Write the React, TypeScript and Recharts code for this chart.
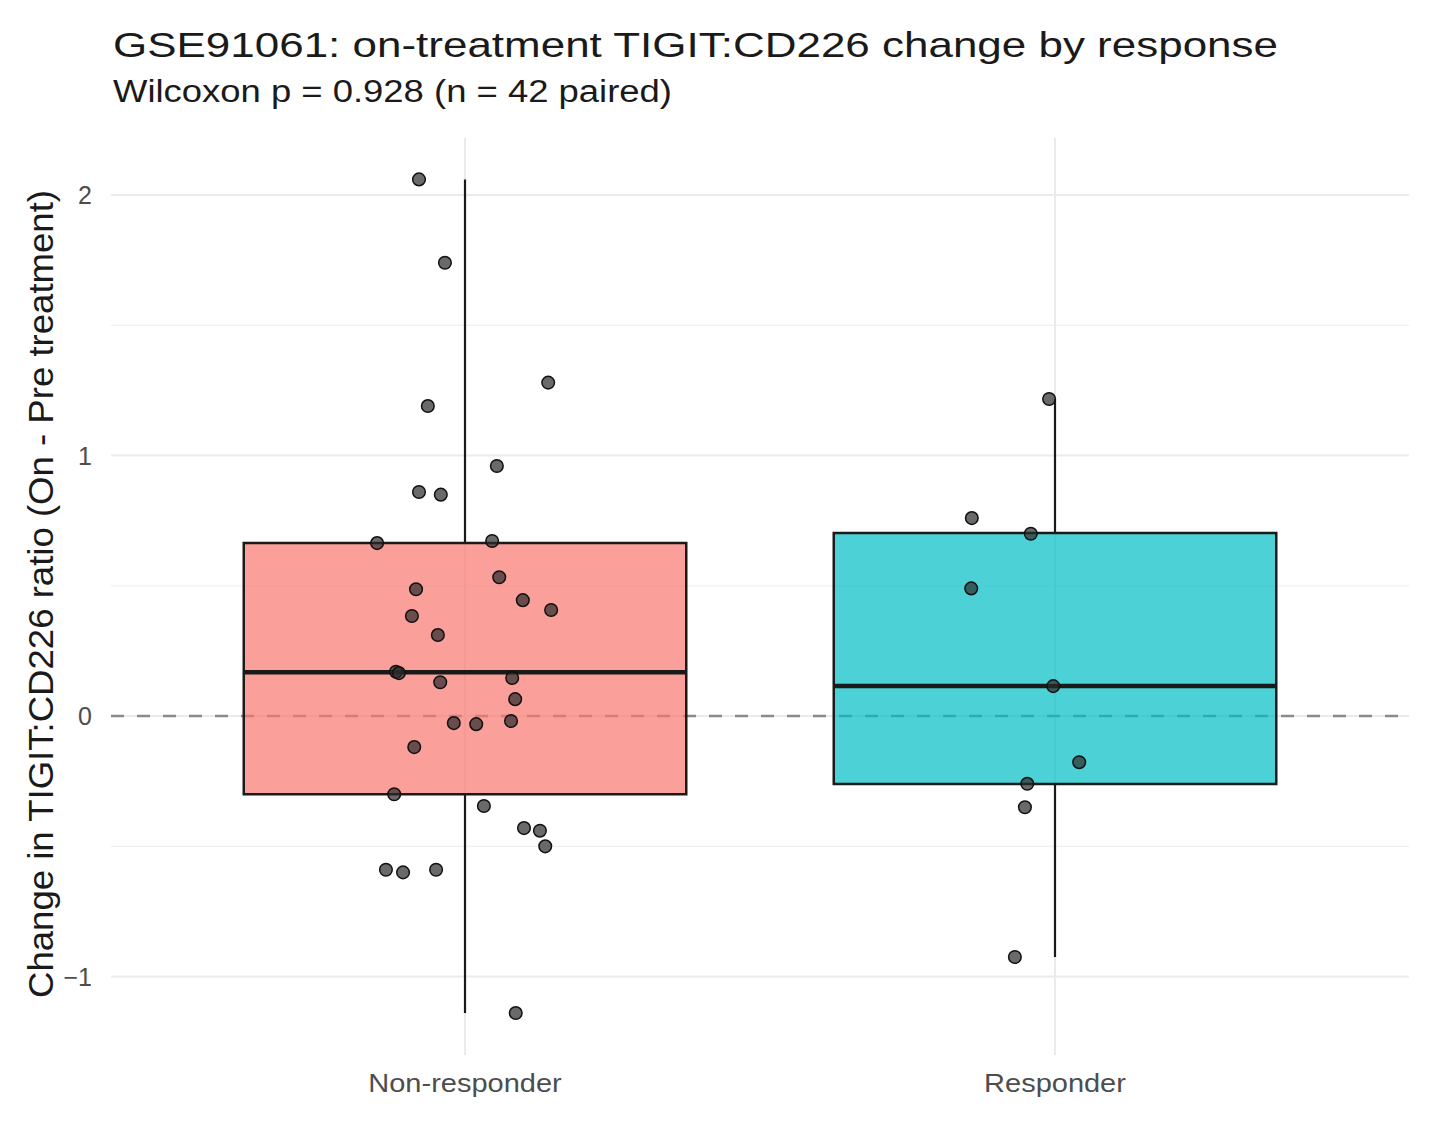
import React from 'react';
import { ComposedChart, Scatter, XAxis, YAxis, CartesianGrid, ReferenceLine, ReferenceArea } from 'recharts';

// groups and box statistics
const groups = ['Non-responder', 'Responder'];
const groupFill = ['#F8766D', '#00BFC4'];
const boxQ1 = [-0.3, -0.261];
const boxMedian = [0.168, 0.115];
const boxQ3 = [0.664, 0.703];
const whiskerLow = [-1.14, -0.925];
const whiskerHigh = [2.06, 1.217];

// jittered points: value and horizontal jitter offset from the group centre
const nonResponderValues = [
  2.06, 1.74, 1.28, 1.19, 0.96, 0.86, 0.85, 0.664, 0.672, 0.533, 0.487,
  0.445, 0.407, 0.384, 0.311, 0.17, 0.165, 0.146, 0.13, 0.065, -0.027,
  -0.031, -0.019, -0.119, -0.3, -0.345, -0.43, -0.44, -0.5, -0.59, -0.6,
  -0.59, -1.14,
];
const nonResponderJitter = [
  -0.078, -0.034, 0.141, -0.063, 0.054, -0.078, -0.041, -0.149, 0.046, 0.058, -0.083,
  0.098, 0.146, -0.09, -0.046, -0.117, -0.112, 0.08, -0.042, 0.085, -0.019,
  0.019, 0.078, -0.086, -0.12, 0.032, 0.1, 0.127, 0.136, -0.134, -0.105,
  -0.049, 0.086,
];
const responderValues = [1.217, 0.76, 0.7, 0.49, 0.115, -0.177, -0.26, -0.35, -0.925];
const responderJitter = [-0.01, -0.141, -0.041, -0.142, -0.003, 0.041, -0.047, -0.051, -0.068];

const yTicks = [-1, 0, 1, 2];
const yMinorTicks = [-0.5, 0.5, 1.5];
const xTicks = [1, 2];
const boxHalfWidth = 0.375;

const nrPoints = nonResponderValues.map((v, i) => ({ x: 1 + nonResponderJitter[i], y: v }));
const rPoints = responderValues.map((v, i) => ({ x: 2 + responderJitter[i], y: v }));

const FONT = '"Liberation Sans", Arial, Helvetica, sans-serif';

const PointShape = (props: any) => (
  <circle cx={props.cx} cy={props.cy} r={6.3} fill="#2b2b2b" fillOpacity={0.7} stroke="#111" strokeWidth={1.5} />
);

const XTick = (props: any) => {
  const { x, y, payload } = props;
  return (
    <text transform={`translate(${x},${y + 37}) scale(1.16,1)`} textAnchor="middle" fontSize={25} fill="#4D4D4D" fontFamily={FONT}>
      {groups[payload.value - 1]}
    </text>
  );
};

const YTick = (props: any) => {
  const { x, y, payload } = props;
  const label = payload.value < 0 ? `\u2212${Math.abs(payload.value)}` : `${payload.value}`;
  return (
    <text x={x} y={y + 9} textAnchor="end" fontSize={25} fill="#4D4D4D" fontFamily={FONT}>
      {label}
    </text>
  );
};

export default function App() {
  return (
    <div style={{ position: 'relative', width: 1425, height: 1107, background: '#fff', fontFamily: FONT }}>
      <ComposedChart width={1425} height={1107} margin={{ top: 130, right: 24, bottom: 10, left: 33 }}>
        <CartesianGrid horizontalValues={yMinorTicks} vertical={false} stroke="#F0F0F0" strokeWidth={1.2} />
        <CartesianGrid horizontalValues={yTicks} verticalValues={xTicks} stroke="#EBEBEB" strokeWidth={2} />
        <CartesianGrid horizontalValues={[0]} vertical={false} stroke="#8a8a8a" strokeWidth={2.5} strokeDasharray="13 13" />
        <XAxis
          type="number"
          dataKey="x"
          domain={[0.4, 2.6]}
          ticks={xTicks}
          axisLine={false}
          tickLine={false}
          tickSize={0}
          tickMargin={0}
          height={50}
          tick={<XTick />}
          allowDataOverflow
        />
        <YAxis
          type="number"
          dataKey="y"
          domain={[-1.301, 2.219]}
          ticks={yTicks}
          axisLine={false}
          tickLine={false}
          tickSize={0}
          tickMargin={19}
          width={70}
          tick={<YTick />}
          allowDataOverflow
        />

        {/* whiskers */}
        {groups.map((g, i) => (
          <ReferenceLine
            key={`wh-${g}`}
            segment={[{ x: i + 1, y: boxQ3[i] }, { x: i + 1, y: whiskerHigh[i] }]}
            stroke="#1a1a1a"
            strokeWidth={2.2}
          />
        ))}
        {groups.map((g, i) => (
          <ReferenceLine
            key={`wl-${g}`}
            segment={[{ x: i + 1, y: whiskerLow[i] }, { x: i + 1, y: boxQ1[i] }]}
            stroke="#1a1a1a"
            strokeWidth={2.2}
          />
        ))}

        {/* boxes */}
        {groups.map((g, i) => (
          <ReferenceArea
            key={`box-${g}`}
            x1={i + 1 - boxHalfWidth}
            x2={i + 1 + boxHalfWidth}
            y1={boxQ1[i]}
            y2={boxQ3[i]}
            fill={groupFill[i]}
            fillOpacity={0.7}
            stroke="#1a1a1a"
            strokeWidth={2.5}
          />
        ))}

        {/* medians */}
        {groups.map((g, i) => (
          <ReferenceLine
            key={`med-${g}`}
            segment={[{ x: i + 1 - boxHalfWidth, y: boxMedian[i] }, { x: i + 1 + boxHalfWidth, y: boxMedian[i] }]}
            stroke="#1a1a1a"
            strokeWidth={4.5}
          />
        ))}

        <Scatter data={nrPoints} shape={<PointShape />} isAnimationActive={false} />
        <Scatter data={rPoints} shape={<PointShape />} isAnimationActive={false} />
      </ComposedChart>

      <svg width={1425} height={1107} style={{ position: 'absolute', left: 0, top: 0, pointerEvents: 'none' }}>
        <text x={105} y={49} fontSize={35} fill="#1a1a1a" fontFamily={FONT} textLength={1165} lengthAdjust="spacingAndGlyphs">
          GSE91061: on-treatment TIGIT:CD226 change by response
        </text>
        <text x={105} y={94} fontSize={31} fill="#1a1a1a" fontFamily={FONT} textLength={559} lengthAdjust="spacingAndGlyphs">
          Wilcoxon p = 0.928 (n = 42 paired)
        </text>
        <text
          transform="translate(45,586) rotate(-90)"
          textAnchor="middle"
          fontSize={35}
          fill="#1a1a1a"
          fontFamily={FONT}
          textLength={808}
          lengthAdjust="spacingAndGlyphs"
        >
          Change in TIGIT:CD226 ratio (On - Pre treatment)
        </text>
      </svg>
    </div>
  );
}
